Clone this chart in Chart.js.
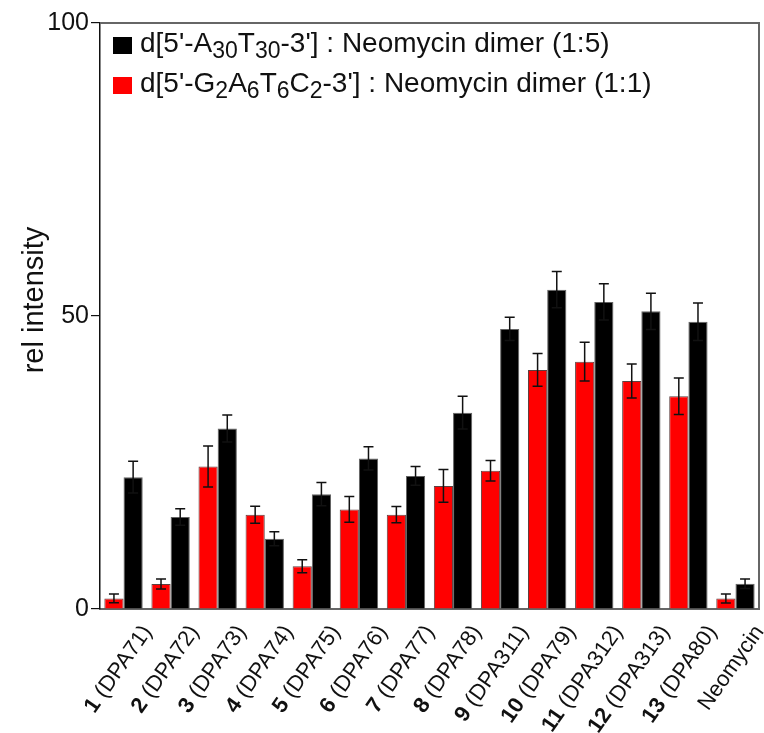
<!DOCTYPE html>
<html>
<head>
<meta charset="utf-8">
<script src="https://cdn.jsdelivr.net/npm/chart.js@4.4.1/dist/chart.umd.min.js"></script>
<style>
  html, body { margin: 0; padding: 0; background: #fff; }
  #wrap { width: 764px; height: 733px; }
</style>
</head>
<body>
<div id="wrap"><canvas id="c" width="764" height="733"></canvas></div>
<script>
// Compound numbers (bold) and codes shown on the category axis
const compoundNumbers = ['1', '2', '3', '4', '5', '6', '7', '8', '9', '10', '11', '12', '13', ''];
const compoundCodes = ['(DPA71)', '(DPA72)', '(DPA73)', '(DPA74)', '(DPA75)', '(DPA76)', '(DPA77)',
  '(DPA78)', '(DPA311)', '(DPA79)', '(DPA312)', '(DPA313)', '(DPA80)', 'Neomycin'];

// Relative intensity, d[5'-G2A6T6C2-3'] : neomycin dimer (1:1)
const gaTcValues = [1.8, 4.25, 24.3, 16.1, 7.3, 17.0, 16.1, 21.0, 23.6, 40.8, 42.2, 38.9, 36.3, 1.8];
const gaTcErrors = [0.75, 0.85, 3.5, 1.45, 1.1, 2.2, 1.4, 2.8, 1.75, 2.8, 3.3, 2.9, 3.1, 0.77];

// Relative intensity, d[5'-A30T30-3'] : neomycin dimer (1:5)
const atValues = [22.5, 15.7, 30.8, 12.0, 19.6, 25.7, 22.7, 33.5, 47.8, 54.5, 52.4, 50.8, 49.0, 4.3];
const atErrors = [2.7, 1.4, 2.3, 1.2, 2.0, 2.0, 1.6, 2.8, 2.0, 3.1, 3.1, 3.1, 3.2, 0.8];

// Legend entries; "_nn" marks a subscript
const legendAt = "d[5'-A_30T_30-3'] : Neomycin dimer (1:5)";
const legendGaTc = "d[5'-G_2A_6T_6C_2-3'] : Neomycin dimer (1:1)";

const yTicks = [0, 50, 100];
const yTitle = 'rel intensity';

const FONT = "'Liberation Sans', Arial, Helvetica, sans-serif";
const RED = '#ff0000';
const BLACK = '#000000';
const LABEL_ANGLE = 55 * Math.PI / 180;

const labels = compoundCodes.map((c, i) => (compoundNumbers[i] ? compoundNumbers[i] + ' ' : '') + c);

// error bars drawn on top of each bar
const errorBars = {
  id: 'errorBars',
  afterDatasetsDraw(chart) {
    const ctx = chart.ctx;
    const y = chart.scales.y;
    ctx.save();
    ctx.strokeStyle = '#111';
    ctx.lineWidth = 1.5;
    chart.data.datasets.forEach((ds, di) => {
      const meta = chart.getDatasetMeta(di);
      meta.data.forEach((bar, i) => {
        const v = ds.data[i], e = ds.errors[i];
        const yt = y.getPixelForValue(v + e);
        const yb = y.getPixelForValue(v - e);
        const x = bar.x, cw = 5;
        ctx.beginPath();
        ctx.moveTo(x, yt); ctx.lineTo(x, yb);
        ctx.moveTo(x - cw, yt); ctx.lineTo(x + cw, yt);
        ctx.moveTo(x - cw, yb); ctx.lineTo(x + cw, yb);
        ctx.stroke();
      });
    });
    ctx.restore();
  }
};

// draws a string where "_digits" become lowered, smaller text
function drawRich(ctx, str, x, y, size, subSize, subDrop) {
  const parts = str.split(/(_\d+)/).filter(s => s.length);
  let cx = x;
  parts.forEach(p => {
    if (p[0] === '_') {
      ctx.font = subSize + 'px ' + FONT;
      ctx.fillText(p.slice(1), cx, y + subDrop);
      cx += ctx.measureText(p.slice(1)).width;
    } else {
      ctx.font = size + 'px ' + FONT;
      ctx.fillText(p, cx, y);
      cx += ctx.measureText(p).width;
    }
  });
}

const frameAndLabels = {
  id: 'frameAndLabels',
  afterDraw(chart) {
    const ctx = chart.ctx;
    const a = chart.chartArea;
    const xs = chart.scales.x;
    ctx.save();

    // top and right frame lines
    ctx.strokeStyle = '#666';
    ctx.lineWidth = 2;
    ctx.beginPath();
    ctx.moveTo(a.left, a.top); ctx.lineTo(a.right, a.top); ctx.lineTo(a.right, a.bottom);
    ctx.stroke();

    // y axis title
    ctx.save();
    ctx.translate(35, 300);
    ctx.rotate(-Math.PI / 2);
    ctx.fillStyle = '#111';
    ctx.font = '29px ' + FONT;
    ctx.textAlign = 'center';
    ctx.textBaseline = 'middle';
    ctx.fillText(yTitle, 0, 0);
    ctx.restore();

    // legend
    ctx.textBaseline = 'alphabetic';
    ctx.textAlign = 'left';
    const entries = [[legendAt, BLACK, 52], [legendGaTc, RED, 92]];
    entries.forEach(([txt, col, base]) => {
      ctx.fillStyle = col;
      ctx.fillRect(113, base - 15, 19, 17);
      ctx.fillStyle = '#111';
      drawRich(ctx, txt, 140, base, 28, 23, 6);
    });

    // rotated category labels
    ctx.fillStyle = '#111';
    ctx.textBaseline = 'middle';
    ctx.textAlign = 'right';
    labels.forEach((_, i) => {
      const x = xs.getPixelForValue(i);
      ctx.save();
      ctx.translate(x + 24, a.bottom + 19);
      ctx.rotate(-LABEL_ANGLE);
      ctx.font = '22px ' + FONT;
      ctx.fillText(compoundCodes[i], 0, 0);
      if (compoundNumbers[i]) {
        const w = ctx.measureText(compoundCodes[i]).width + ctx.measureText(' ').width;
        ctx.font = 'bold 22px ' + FONT;
        ctx.fillText(compoundNumbers[i], -w, 0);
      }
      ctx.restore();
    });
    ctx.restore();
  }
};

new Chart(document.getElementById('c'), {
  type: 'bar',
  data: {
    labels: labels,
    datasets: [
      { label: legendGaTc, data: gaTcValues, errors: gaTcErrors, backgroundColor: RED,
        borderColor: 'rgba(40,0,0,0.75)', borderWidth: 1 },
      { label: legendAt, data: atValues, errors: atErrors, backgroundColor: BLACK,
        borderColor: 'rgba(60,60,60,0.8)', borderWidth: 1 }
    ]
  },
  options: {
    responsive: false,
    animation: false,
    devicePixelRatio: 1,
    layout: { padding: { top: 23, right: 5, left: 0, bottom: 0 } },
    datasets: { bar: { categoryPercentage: 0.815, barPercentage: 1.0 } },
    plugins: { legend: { display: false }, tooltip: { enabled: false } },
    scales: {
      x: {
        ticks: { display: false },
        grid: { display: false },
        border: { display: true, color: '#666', width: 2 },
        afterFit(s) { s.height = 124; }
      },
      y: {
        min: 0, max: 100,
        afterBuildTicks(s) { s.ticks = yTicks.map(v => ({ value: v })); },
        ticks: { color: '#111', font: { family: FONT, size: 25 }, padding: 2 },
        grid: { drawOnChartArea: false, drawTicks: true, tickLength: 9, color: '#111', lineWidth: 1.2 },
        border: { display: true, color: '#111', width: 1.5 },
        title: { display: false },
        afterFit(s) { s.width = 100; }
      }
    }
  },
  plugins: [errorBars, frameAndLabels]
});
</script>
</body>
</html>
